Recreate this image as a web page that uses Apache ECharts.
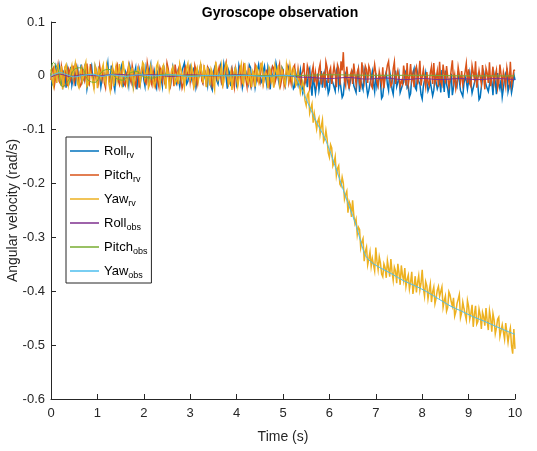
<!DOCTYPE html>
<html>
<head>
<meta charset="utf-8">
<script src="https://cdn.jsdelivr.net/npm/echarts@6/dist/echarts.min.js"></script>
<style>
  html, body { margin: 0; padding: 0; background: #fff; }
  #main { width: 537px; height: 451px; }
</style>
</head>
<body>
<div id="main"></div>
<script>
// sample spacing of the raw (rv) signals, seconds
const sampleStep = 0.025;

const seriesNames = ['Roll_rv', 'Pitch_rv', 'Yaw_rv', 'Roll_obs', 'Pitch_obs', 'Yaw_obs'];
const xTicks = [0, 1, 2, 3, 4, 5, 6, 7, 8, 9, 10];
const yTicks = [0.1, 0, -0.1, -0.2, -0.3, -0.4, -0.5, -0.6];

// raw gyro readings (rad/s), one every sampleStep
const rollRv = [
  0.005,-0.016,-0.012,0.010,0.018,-0.004,-0.006,0.021,0.009,-0.013,-0.020,0.007,0.003,-0.022,0.014,0.002,-0.009,0.017,-0.017,-0.005,
  0.011,-0.019,0.002,0.013,-0.014,-0.003,0.021,-0.011,-0.005,0.016,0.008,-0.024,-0.022,0.004,0.006,0.019,-0.003,-0.015,0.016,0.005,
  -0.011,0.012,0.004,-0.020,-0.018,0.009,0.012,-0.007,0.007,0.023,-0.008,-0.012,0.019,0.001,-0.015,-0.026,0.001,0.014,-0.006,-0.009,
  0.013,0.020,-0.021,-0.006,0.009,0.011,-0.002,-0.017,0.017,0.006,-0.012,-0.021,0.005,0.015,-0.025,-0.002,0.010,-0.014,0.003,0.018,
  -0.007,-0.019,0.015,0.003,-0.013,0.012,0.022,-0.010,-0.004,0.008,-0.016,-0.023,0.008,0.014,0.011,-0.005,-0.019,0.020,0.002,-0.012,
  0.014,0.001,-0.009,-0.018,-0.003,0.016,0.018,-0.008,-0.014,0.005,0.006,-0.020,-0.023,0.010,0.012,0.024,0.000,-0.015,-0.010,0.007,
  0.016,-0.006,-0.005,0.013,0.009,-0.021,-0.018,0.002,0.004,0.019,0.020,-0.011,-0.012,0.006,-0.002,-0.017,0.013,0.009,-0.020,-0.026,
  0.007,0.015,0.001,-0.009,-0.015,0.004,0.017,-0.013,-0.008,0.022,0.010,-0.003,-0.024,0.011,0.005,-0.019,0.012,0.003,-0.006,0.017,
  -0.017,-0.010,0.019,0.008,0.003,-0.022,-0.011,0.014,0.008,-0.004,-0.014,0.020,0.015,-0.016,-0.001,0.005,-0.021,-0.007,0.011,0.021,
  0.006,-0.013,-0.009,0.010,0.018,-0.002,-0.016,0.015,0.002,-0.025,0.009,0.006,-0.013,-0.008,0.023,0.012,-0.007,-0.018,-0.004,0.016,
  0.012,-0.011,-0.019,0.004,0.007,0.017,0.014,-0.006,-0.010,-0.024,-0.020,0.005,0.002,-0.017,-0.014,0.011,0.009,-0.030,-0.028,-0.008,
  -0.003,-0.021,0.008,0.014,-0.018,-0.037,-0.001,0.002,-0.032,-0.015,0.004,-0.026,-0.012,0.009,-0.022,-0.004,0.006,-0.019,-0.009,-0.033,
  -0.026,0.003,0.001,-0.013,-0.015,-0.028,0.010,0.016,-0.021,-0.007,-0.006,-0.040,-0.035,-0.011,0.003,0.006,-0.013,-0.023,-0.024,0.001,
  0.007,-0.018,-0.017,-0.031,-0.002,0.011,-0.030,-0.009,-0.010,-0.025,0.012,0.004,-0.019,-0.036,-0.027,-0.014,-0.004,0.008,-0.014,-0.029,
  0.005,-0.020,-0.023,0.002,-0.011,-0.042,-0.038,-0.016,-0.001,0.007,-0.016,-0.027,0.008,-0.005,-0.025,-0.034,-0.007,0.010,-0.020,-0.012,
  0.002,-0.031,-0.029,-0.017,-0.012,0.005,0.009,-0.022,-0.018,-0.039,-0.033,-0.003,-0.005,0.013,-0.022,-0.026,0.004,-0.010,-0.015,-0.035,
  -0.043,-0.019,-0.008,0.006,0.006,-0.028,-0.021,-0.011,-0.013,-0.037,-0.027,0.000,0.001,-0.024,-0.017,-0.008,-0.031,0.011,-0.006,-0.030,
  0.010,-0.016,-0.024,-0.041,-0.011,0.004,-0.036,-0.021,-0.003,-0.012,-0.019,0.009,0.007,-0.027,-0.028,-0.038,-0.014,-0.002,-0.009,-0.025,
  -0.022,0.006,0.003,-0.032,-0.030,-0.013,-0.012,0.001,-0.018,-0.044,-0.040,-0.020,-0.005,0.007,0.008,-0.017,-0.020,-0.029,-0.026,-0.004,
  -0.010,-0.036,0.002,-0.011,-0.034,0.005,-0.015,-0.024,-0.007,-0.039,-0.023,-0.006,0.005,0.010,-0.029,-0.018,-0.013,-0.031,-0.019,0.003,
  -0.008
];
const pitchRv = [
  -0.008,0.011,0.015,-0.017,-0.003,0.006,0.020,-0.010,-0.014,0.018,0.006,-0.021,0.011,0.004,-0.019,0.014,0.009,-0.007,0.002,0.019,
  -0.012,-0.004,0.017,0.008,-0.006,-0.020,-0.016,0.012,0.013,-0.009,0.004,0.023,-0.010,-0.015,0.022,0.005,-0.002,-0.018,-0.015,0.010,
  0.010,-0.013,0.018,0.003,-0.007,0.016,-0.013,-0.022,0.014,0.007,-0.001,-0.011,-0.020,0.015,0.007,-0.005,0.016,0.021,-0.009,-0.016,
  0.003,0.009,0.012,-0.014,-0.018,0.002,0.008,0.020,-0.004,-0.012,0.019,0.006,-0.011,-0.019,0.001,0.013,-0.022,-0.006,0.013,0.017,
  0.005,-0.010,-0.014,0.024,0.021,-0.003,-0.006,-0.017,0.010,0.011,-0.017,0.001,0.003,-0.020,0.015,0.008,-0.008,0.018,-0.012,-0.006,
  0.024,0.014,-0.002,-0.016,0.009,0.005,-0.019,0.021,0.006,-0.009,0.012,0.003,-0.007,-0.023,-0.015,0.012,0.017,-0.001,-0.003,0.015,
  -0.011,0.007,0.008,-0.018,0.019,0.010,-0.016,-0.005,0.001,0.022,-0.009,-0.014,0.014,0.004,-0.020,0.016,0.011,-0.008,0.004,-0.019,
  -0.013,0.009,0.020,-0.002,-0.005,0.017,0.007,-0.012,-0.018,0.006,0.016,0.025,-0.001,-0.016,-0.010,0.003,0.013,-0.007,-0.021,0.012,
  0.009,-0.014,0.002,0.019,-0.014,-0.004,0.018,0.008,-0.006,-0.020,0.011,0.014,-0.017,0.001,0.005,-0.011,0.021,0.016,-0.008,-0.003,
  -0.012,0.020,0.015,-0.015,-0.003,0.006,0.010,0.012,-0.019,-0.008,0.006,0.018,0.014,-0.013,-0.011,0.004,0.003,0.022,-0.016,-0.005,
  0.012,-0.018,-0.007,0.009,0.017,-0.013,-0.002,-0.014,0.009,0.016,0.020,-0.016,-0.010,0.013,0.014,-0.021,0.003,0.008,0.024,-0.014,
  -0.006,0.019,0.011,-0.023,-0.014,0.007,0.018,-0.012,0.006,-0.018,-0.009,0.012,0.022,-0.016,0.001,0.005,-0.022,0.026,0.016,-0.013,
  0.008,0.015,-0.015,-0.012,0.019,0.004,-0.021,0.020,0.013,-0.017,0.027,0.010,0.044,-0.008,-0.018,0.017,0.015,-0.024,0.002,0.009,
  -0.015,0.023,0.021,-0.016,0.007,0.014,-0.014,-0.020,0.025,0.006,-0.010,0.018,0.012,-0.013,0.018,0.011,-0.017,-0.022,0.004,0.021,
  0.023,-0.011,-0.019,0.008,0.010,-0.016,0.016,-0.023,-0.003,0.005,0.020,0.027,-0.006,-0.019,-0.014,0.013,0.026,-0.015,0.001,0.010,
  0.013,-0.019,-0.009,-0.015,0.019,0.003,-0.018,0.024,-0.016,-0.002,0.022,-0.009,0.003,-0.021,0.011,0.017,-0.016,0.001,0.028,-0.018,
  -0.002,0.012,0.014,-0.020,0.007,-0.012,-0.018,0.006,0.017,-0.015,0.024,-0.014,-0.005,0.009,-0.020,0.026,-0.011,-0.017,0.021,0.003,
  -0.014,0.018,0.015,-0.020,-0.008,0.011,0.029,-0.011,0.002,-0.024,-0.013,0.016,0.018,-0.012,0.009,-0.016,-0.004,0.008,0.023,-0.013,
  0.012,-0.015,-0.020,0.019,0.016,-0.006,0.027,-0.022,-0.006,0.010,0.008,-0.015,0.020,-0.002,-0.025,0.014,0.005,-0.013,0.025,-0.019,
  -0.003,0.017,-0.013,0.001,0.011,-0.023,-0.012,0.021,0.022,-0.016,0.007,-0.004,-0.019,0.015,0.017,-0.014,0.026,-0.017,-0.005,0.010,
  0.011
];
const yawRv = [
  0.012,-0.008,-0.018,0.015,0.007,-0.013,0.022,0.004,-0.009,0.018,-0.025,-0.006,0.016,0.021,0.003,-0.017,-0.014,0.009,0.019,-0.003,
  -0.006,0.024,0.010,-0.015,-0.021,0.006,0.014,-0.010,-0.002,0.017,0.025,-0.020,-0.016,0.012,0.005,0.001,-0.011,-0.023,0.018,0.008,
  -0.023,0.013,0.008,-0.004,0.013,0.021,-0.007,-0.014,0.020,0.009,-0.015,-0.027,0.001,0.016,-0.019,0.004,0.017,-0.009,0.006,0.022,
  -0.012,-0.018,0.028,0.011,-0.004,-0.008,-0.017,0.019,0.011,-0.002,0.015,-0.021,-0.020,0.007,0.003,0.014,0.009,-0.012,-0.013,0.025,
  0.021,-0.005,-0.008,0.012,-0.022,-0.016,0.016,0.004,0.004,-0.019,-0.011,0.018,0.024,-0.007,-0.018,0.010,0.007,0.020,-0.003,-0.024,
  0.014,0.006,-0.024,-0.011,0.010,0.017,0.019,-0.014,-0.009,0.003,-0.015,0.022,0.012,-0.006,0.002,-0.020,-0.019,0.015,0.023,-0.002,
  -0.006,0.018,0.009,-0.022,-0.017,0.008,0.015,-0.009,-0.012,0.021,0.005,-0.013,0.020,0.002,-0.021,0.016,-0.001,-0.018,0.013,0.007,
  -0.014,-0.025,0.026,0.012,-0.008,-0.003,0.006,0.019,-0.018,-0.011,0.011,0.023,0.017,-0.016,-0.010,0.005,-0.026,-0.007,0.008,0.014,
  0.014,-0.019,-0.005,0.010,0.021,-0.012,-0.016,0.024,0.003,-0.008,-0.013,0.015,0.018,-0.021,0.009,0.004,-0.020,0.017,0.012,-0.009,
  -0.007,0.020,0.024,-0.014,-0.015,0.006,0.001,-0.023,0.016,0.011,-0.011,-0.004,-0.022,0.019,0.010,0.002,0.019,-0.016,-0.004,0.013,
  0.013,-0.010,-0.017,0.021,0.008,-0.006,0.020,0.007,-0.009,0.014,0.009,-0.018,-0.014,0.006,0.003,-0.031,-0.028,-0.010,-0.019,-0.046,
  -0.055,-0.035,-0.031,-0.069,-0.060,-0.052,-0.087,-0.070,-0.071,-0.099,-0.084,-0.078,-0.108,-0.094,-0.082,-0.122,-0.117,-0.101,-0.117,-0.143,
  -0.151,-0.128,-0.134,-0.167,-0.161,-0.150,-0.185,-0.172,-0.167,-0.201,-0.205,-0.188,-0.199,-0.229,-0.220,-0.214,-0.254,-0.233,-0.239,-0.262,
  -0.231,-0.258,-0.274,-0.266,-0.295,-0.281,-0.285,-0.319,-0.308,-0.302,-0.344,-0.326,-0.318,-0.351,-0.340,-0.327,-0.354,-0.339,-0.337,-0.362,
  -0.319,-0.344,-0.360,-0.336,-0.347,-0.368,-0.373,-0.349,-0.356,-0.375,-0.343,-0.357,-0.373,-0.340,-0.364,-0.380,-0.355,-0.362,-0.385,-0.349,
  -0.366,-0.388,-0.352,-0.370,-0.381,-0.357,-0.391,-0.378,-0.370,-0.396,-0.383,-0.364,-0.405,-0.389,-0.372,-0.402,-0.384,-0.371,-0.398,-0.385,
  -0.360,-0.394,-0.409,-0.382,-0.390,-0.414,-0.399,-0.386,-0.420,-0.401,-0.392,-0.423,-0.413,-0.398,-0.391,-0.409,-0.411,-0.392,-0.430,-0.418,
  -0.409,-0.437,-0.430,-0.401,-0.407,-0.419,-0.428,-0.412,-0.446,-0.438,-0.423,-0.415,-0.406,-0.449,-0.440,-0.420,-0.432,-0.431,-0.453,-0.417,
  -0.428,-0.452,-0.441,-0.425,-0.466,-0.443,-0.427,-0.461,-0.456,-0.433,-0.444,-0.470,-0.439,-0.447,-0.464,-0.431,-0.455,-0.472,-0.436,-0.450,
  -0.475,-0.441,-0.453,-0.479,-0.468,-0.452,-0.448,-0.484,-0.486,-0.462,-0.465,-0.489,-0.459,-0.456,-0.495,-0.478,-0.468,-0.501,-0.516,-0.470,
  -0.507
];

// filtered observations, [time, value]
const rollObs = [
  [0,-0.002],[0.2,0.003],[0.4,-0.001],[0.7,0.002],[1.0,0.000],[1.4,0.003],[1.8,0.001],[2.2,0.002],[2.6,-0.001],
  [3.0,0.002],[3.5,0.000],[4.0,0.002],[4.5,0.000],[5.0,0.001],[5.3,-0.002],[5.6,-0.003],[6.0,-0.005],[6.4,-0.003],
  [6.8,-0.006],[7.2,-0.004],[7.6,-0.007],[8.0,-0.005],[8.4,-0.007],[8.8,-0.005],[9.2,-0.007],[9.6,-0.005],[10,-0.007]
];
const pitchObs = [
  [0,0.000],[0.05,0.025],[0.15,0.012],[0.25,-0.020],[0.4,-0.005],[0.5,0.012],[0.65,0.015],[0.8,-0.008],[0.95,-0.012],
  [1.1,0.008],[1.25,0.012],[1.4,-0.004],[1.55,-0.008],[1.7,0.005],[1.85,0.008],[2.0,-0.002],[2.2,-0.004],[2.4,0.003],
  [2.7,0.001],[3,0.000],[4,0.001],[5,0.000],[5.5,0.001],[6,0.002],[7,0.001],[8,0.001],[9,0.000],[10,0.000]
];
const yawObs = [
  [0,0.000],[0.1,0.004],[0.2,0.006],[0.35,0.002],[0.5,-0.002],[0.7,0.001],[0.9,0.003],[1.1,-0.001],[1.3,0.002],
  [1.6,-0.001],[1.9,0.002],[2.2,0.000],[2.6,0.002],[3.0,-0.001],[3.4,0.001],[3.8,0.000],[4.2,0.001],[4.6,-0.001],
  [5.0,0.001],[5.2,0.000],[5.26,-0.001],[5.35,-0.015],[5.47,-0.037],[5.58,-0.059],[5.69,-0.080],[5.8,-0.099],
  [5.91,-0.117],[6.0,-0.137],[6.12,-0.167],[6.23,-0.194],[6.34,-0.222],[6.45,-0.248],[6.55,-0.271],[6.64,-0.297],
  [6.72,-0.321],[6.78,-0.334],[6.83,-0.340],[6.95,-0.349],[7.13,-0.358],[7.35,-0.368],[7.59,-0.380],[7.85,-0.390],
  [8.10,-0.401],[8.35,-0.414],[8.60,-0.427],[8.85,-0.437],[9.09,-0.447],[9.35,-0.456],[9.61,-0.466],[9.8,-0.473],[10,-0.480]
];

const colors = ['#0072BD', '#D95319', '#EDB120', '#7E2F8E', '#77AC30', '#4DBEEE'];
const font = "'Liberation Sans', Arial, Helvetica, sans-serif";
const ink = '#262626';

const withTime = arr => arr.map((v, i) => [+(i * sampleStep).toFixed(3), v]);

const chart = echarts.init(document.getElementById('main'), null, { renderer: 'canvas' });

const lineSeries = (name, data, idx, smooth, width) => ({
  name: name,
  type: 'line',
  data: data,
  symbol: 'none',
  smooth: smooth,
  color: colors[idx],
  lineStyle: { width: width, color: colors[idx], join: 'miter' },
  emphasis: { disabled: true },
  z: 2
});

const option = {
  animation: false,
  backgroundColor: '#fff',
  textStyle: { fontFamily: font },
  title: {
    text: 'Gyroscope observation',
    left: 275,
    textAlign: 'center',
    top: 1,
    textStyle: { fontSize: 14, fontWeight: 'bold', color: '#000', fontFamily: font }
  },
  grid: { left: 51, right: 22, top: 22, bottom: 52, containLabel: false, outerBoundsMode: 'none' },
  legend: {
    orient: 'vertical',
    left: 66,
    top: 137,
    padding: [5, 4, 3, 4],
    icon: 'rect',
    itemWidth: 29,
    itemHeight: 1.5,
    itemGap: 6,
    backgroundColor: '#fff',
    borderColor: ink,
    borderWidth: 1,
    data: seriesNames,
    formatter: name => {
      const parts = name.split('_');
      return '{a|' + parts[0] + '}{s|' + parts[1] + '}';
    },
    textStyle: {
      color: '#000',
      fontFamily: font,
      rich: {
        a: { fontSize: 13, fontFamily: font, color: '#000', lineHeight: 16 },
        s: { fontSize: 9, fontFamily: font, color: '#000', padding: [9, 0, 0, 0], lineHeight: 16 }
      }
    }
  },
  xAxis: {
    type: 'value',
    min: 0,
    max: 10,
    interval: 1,
    name: 'Time (s)',
    nameLocation: 'middle',
    nameGap: 31,
    nameMoveOverlap: false,
    nameTextStyle: { fontSize: 14, color: ink, fontFamily: font },
    axisLine: { onZero: false, lineStyle: { color: ink, width: 1 } },
    axisTick: { inside: true, length: 5, lineStyle: { color: ink } },
    axisLabel: { fontSize: 13, color: ink, margin: 8, fontFamily: font, formatter: v => xTicks.includes(v) ? String(v) : '' },
    splitLine: { show: false }
  },
  yAxis: {
    type: 'value',
    min: -0.6,
    max: 0.1,
    interval: 0.1,
    name: 'Angular velocity (rad/s)',
    nameLocation: 'middle',
    nameGap: 31,
    nameMoveOverlap: false,
    nameTextStyle: { fontSize: 14, color: ink, fontFamily: font },
    axisLine: { onZero: false, lineStyle: { color: ink, width: 1 } },
    axisTick: { inside: true, length: 5, lineStyle: { color: ink } },
    axisLabel: {
      fontSize: 13, color: ink, margin: 6, fontFamily: font,
      formatter: v => {
        const t = yTicks.find(k => Math.abs(k - v) < 1e-9);
        return t === undefined ? '' : String(t);
      }
    },
    splitLine: { show: false }
  },
  series: [
    lineSeries('Roll_rv', withTime(rollRv), 0, false, 1.5),
    lineSeries('Pitch_rv', withTime(pitchRv), 1, false, 1.5),
    lineSeries('Yaw_rv', withTime(yawRv), 2, false, 1.5),
    lineSeries('Roll_obs', rollObs, 3, 0.4, 1),
    lineSeries('Pitch_obs', pitchObs, 4, 0.4, 1),
    lineSeries('Yaw_obs', yawObs, 5, 0.3, 1)
  ]
};

chart.setOption(option);
</script>
</body>
</html>
